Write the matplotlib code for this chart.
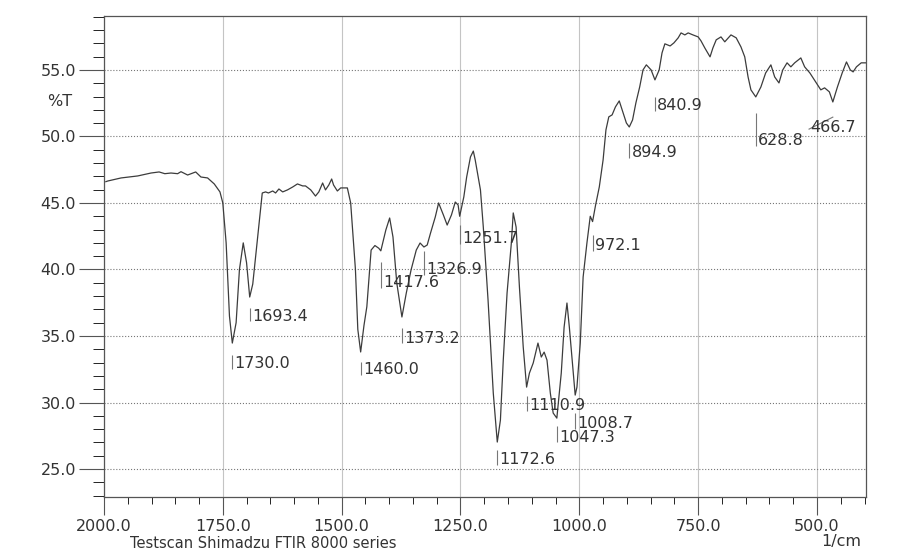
import matplotlib.pyplot as plt
from matplotlib.ticker import MultipleLocator, FormatStrFormatter

# FTIR spectrum, 2000 - 400 1/cm
wavenumber = [
    1996, 1992, 1964, 1929, 1901, 1884, 1872, 1859, 1845, 1838,
    1824, 1807, 1796, 1782, 1768, 1756, 1750, 1743, 1736, 1730,
    1722, 1715, 1707, 1700, 1693.4, 1687, 1678, 1667, 1660, 1654,
    1645, 1639, 1632, 1624, 1614, 1603, 1593, 1582, 1576, 1565,
    1555, 1548, 1540, 1534, 1527, 1521, 1517, 1509, 1502, 1492,
    1488, 1481, 1471, 1466, 1460, 1453, 1447, 1438, 1430, 1422,
    1417.6, 1407, 1399, 1392, 1384, 1373.2, 1364, 1354, 1343, 1335,
    1326.9, 1320, 1313, 1303, 1296, 1286, 1278, 1269, 1261, 1255,
    1251.7, 1243, 1237, 1229, 1223, 1219, 1208, 1202, 1192, 1181,
    1172.6, 1166, 1160, 1152, 1143, 1139, 1133, 1126, 1118, 1110.9,
    1105, 1097, 1087, 1080, 1074, 1068, 1061, 1055, 1047.3, 1038,
    1032, 1026, 1021, 1015, 1008.7, 1005, 998, 992, 984, 977,
    972.1, 966, 958, 950, 944, 938, 931, 924, 916, 908,
    901, 894.9, 888, 881, 873, 866, 859, 849, 840.9, 832,
    826, 820, 809, 801, 792, 786, 778, 771, 761, 750,
    744, 736, 725, 719, 712, 702, 694, 681, 670, 660,
    652, 645, 639, 628.8, 618, 608, 597, 589, 580, 572,
    563, 555, 547, 534, 526, 515, 503, 492, 484, 474,
    466.7, 457, 447, 438, 430, 424, 417, 407, 398,
]
transmittance = [
    46.60, 46.65, 46.88, 47.03, 47.25, 47.33, 47.20, 47.25, 47.20, 47.35,
    47.10, 47.33, 46.95, 46.88, 46.43, 45.83, 45.00, 42.00, 36.50, 34.47,
    36.00, 40.00, 42.00, 40.50, 37.93, 38.90, 42.00, 45.75, 45.83, 45.75,
    45.90, 45.75, 46.05, 45.83, 45.98, 46.20, 46.43, 46.28, 46.28, 45.98,
    45.52, 45.83, 46.50, 45.98, 46.35, 46.80, 46.35, 45.90, 46.13, 46.13,
    46.13, 45.00, 40.00, 35.50, 33.80, 35.80, 37.20, 41.46, 41.80, 41.60,
    41.40, 42.97, 43.87, 42.44, 38.98, 36.43, 38.23, 39.96, 41.46, 41.99,
    41.69, 41.84, 42.74, 43.95, 45.00, 44.10, 43.34, 44.10, 45.07, 44.85,
    44.00, 45.45, 46.95, 48.46, 48.90, 48.23, 45.98, 43.19, 37.70, 30.71,
    27.03, 28.68, 33.19, 38.23, 41.99, 44.25, 43.19, 38.68, 34.17, 31.16,
    32.21, 32.97, 34.47, 33.42, 33.79, 33.19, 30.71, 29.21, 28.83, 32.21,
    35.67, 37.48, 35.67, 33.19, 30.56, 31.16, 34.47, 39.43, 41.99, 44.00,
    43.60, 44.80, 46.20, 48.23, 50.49, 51.47, 51.62, 52.22, 52.67, 51.77,
    51.01, 50.71, 51.24, 52.52, 53.72, 55.00, 55.38, 55.00, 54.25, 55.00,
    56.28, 56.96, 56.80, 57.03, 57.41, 57.78, 57.63, 57.78, 57.63, 57.48,
    57.18, 56.65, 55.98, 56.65, 57.26, 57.48, 57.11, 57.63, 57.41, 56.73,
    55.98, 54.47, 53.50, 52.97, 53.72, 54.77, 55.38, 54.47, 54.02, 55.00,
    55.53, 55.23, 55.53, 55.90, 55.23, 54.77, 54.10, 53.50, 53.65, 53.35,
    52.59, 53.72, 54.77, 55.60, 55.00, 54.85, 55.23, 55.53, 55.53,
]

# peak table: position, where the label sits, top of its marker
peak_labels = ['1730.0', '1693.4', '1460.0', '1417.6', '1373.2', '1326.9',
               '1251.7', '1172.6', '1110.9', '1047.3', '1008.7', '972.1',
               '894.9', '840.9', '628.8', '466.7']
peak_wn = [1730.0, 1693.4, 1460.0, 1417.6, 1373.2, 1326.9, 1251.7, 1172.6,
           1110.9, 1047.3, 1008.7, 972.1, 894.9, 840.9, 628.8, 466.7]
label_y = [32.9, 36.5, 32.45, 39.0, 34.85, 40.0, 42.3, 25.7,
           29.8, 27.4, 28.4, 41.8, 48.8, 52.3, 49.7, 50.7]
marker_top = [33.6, 37.1, 33.05, 40.6, 35.6, 41.4, 43.35, 26.4,
              30.5, 28.2, 29.2, 42.6, 49.5, 52.95, 51.75, 51.45]

ink = '#333333'
fs = 11.5

fig = plt.figure(figsize=(9.08, 5.56), dpi=100)
ax = fig.add_axes([0.1145, 0.1061, 0.8392, 0.8651])

ax.plot(wavenumber, transmittance, color='#3c3c3c', lw=0.9)

ax.set_xlim(2000, 397)
ax.set_ylim(22.9, 59.05)
ax.xaxis.set_major_locator(MultipleLocator(250))
ax.xaxis.set_minor_locator(MultipleLocator(50))
ax.yaxis.set_major_locator(MultipleLocator(5))
ax.yaxis.set_minor_locator(MultipleLocator(1))
ax.xaxis.set_major_formatter(FormatStrFormatter('%.1f'))
ax.yaxis.set_major_formatter(FormatStrFormatter('%.1f'))

ax.grid(axis='y', which='major', ls=':', color='#777777', lw=0.8)
ax.grid(axis='x', which='major', ls='-', color='#c4c4c4', lw=0.8)

ax.tick_params(colors='#555555', labelcolor=ink, labelsize=fs, width=0.8)
ax.tick_params(axis='x', which='major', length=13, pad=3)
ax.tick_params(axis='x', which='minor', length=5)
ax.tick_params(axis='y', which='major', length=18, pad=2)
ax.tick_params(axis='y', which='minor', length=8)
for s in ax.spines.values():
    s.set_color('#555555')
    s.set_linewidth(0.9)

# peak markers and labels
for lab, wn, y, top in zip(peak_labels, peak_wn, label_y, marker_top):
    if lab == '466.7':
        ax.plot([wn + 50, wn], [y - 0.15, top], color='#777777', lw=0.8)
        ax.text(wn + 48, y, lab, ha='left', va='center', fontsize=fs, color=ink)
        continue
    ax.vlines(wn, y - 0.4, top, color='#777777', lw=0.8)
    ax.text(wn - 5, y, lab, ha='left', va='center', fontsize=fs, color=ink)

ax.text(-0.058, 52.6, '%T', transform=ax.get_yaxis_transform(),
        ha='center', va='center', fontsize=fs, color=ink)
fig.text(0.949, 0.026, '1/cm', ha='right', va='center', fontsize=fs, color=ink)
fig.text(0.143, 0.023, 'Testscan Shimadzu FTIR 8000 series', ha='left',
         va='center', fontsize=10.5, color=ink)

fig.savefig('out.png', dpi=100)
